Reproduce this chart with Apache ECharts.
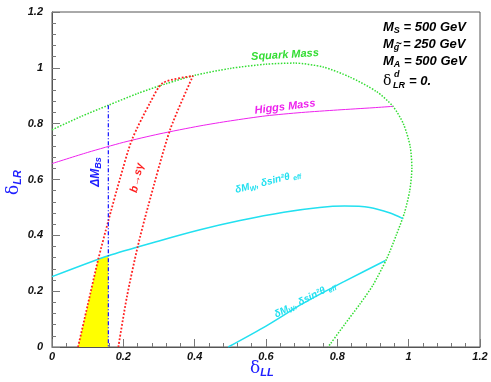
<!DOCTYPE html>
<html>
<head>
<meta charset="utf-8">
<script src="https://cdn.jsdelivr.net/npm/echarts@6/dist/echarts.min.js"></script>
<style>
  html, body {margin: 0; padding: 0; background: #fff;}
  #chart {width: 491px; height: 382px;}
</style>
</head>
<body>
<div id="chart"></div>
<script>
  // curves, [deltaLL, deltaLR]
  const squarkMass = [[0, 0.778], [0.08, 0.825], [0.158, 0.866], [0.24, 0.908], [0.322, 0.944], [0.4, 0.973],
    [0.5, 0.998], [0.6, 1.013], [0.68, 1.017], [0.76, 1.003], [0.835, 0.967], [0.91, 0.915], [0.956, 0.862],
    [0.985, 0.8], [1.004, 0.72], [1.009, 0.64], [1.003, 0.56], [0.988, 0.48], [0.965, 0.4], [0.938, 0.315],
    [0.9, 0.222], [0.864, 0.155], [0.82, 0.08], [0.774, 0]];
  const higgsMass = [[0, 0.657], [0.1, 0.697], [0.2, 0.733], [0.3, 0.763], [0.415, 0.792], [0.5, 0.81],
    [0.6, 0.828], [0.7, 0.84], [0.8, 0.849], [0.9, 0.857], [0.956, 0.862]];
  const ewUpper = [[0, 0.252], [0.158, 0.327], [0.3, 0.38], [0.415, 0.42], [0.527, 0.453], [0.65, 0.483],
    [0.75, 0.5], [0.82, 0.505], [0.891, 0.5], [0.948, 0.48], [0.984, 0.46]];
  const ewLower = [[0.494, 0], [0.6, 0.075], [0.704, 0.156], [0.82, 0.235], [0.935, 0.31]];
  const bsgamma = [[0.073, 0], [0.1, 0.15], [0.13, 0.316], [0.158, 0.452], [0.19, 0.6], [0.224, 0.742],
    [0.275, 0.875], [0.311, 0.946], [0.395, 0.971], [0.331, 0.778], [0.269, 0.502], [0.24, 0.358],
    [0.21, 0.18], [0.186, 0]];
  const deltaMBs = [[0.158, 0.866], [0.158, 0]];
  const allowed = [[0.073, 0], [0.1, 0.15], [0.13, 0.316], [0.158, 0.327], [0.158, 0]];

  const xTicks = {min: 0, max: 1.2, step: 0.2};
  const yTicks = {min: 0, max: 1.2, step: 0.2};

  const font = '"Liberation Sans", Arial, sans-serif';
  const green = '#33dd33', magenta = '#ee22ee', cyan = '#22e0f0', red = '#ff2020', blue = '#2020ff';

  function axis(t) {
    return {
      type: 'value', min: t.min, max: t.max, interval: t.step,
      axisLine: {lineStyle: {color: '#555', width: 1}},
      axisTick: {inside: true, length: 8, lineStyle: {color: '#777'}},
      minorTick: {show: true, splitNumber: 5, length: 4, lineStyle: {color: '#777'}},
      splitLine: {show: false},
      axisLabel: {color: '#111', fontFamily: font, fontWeight: 'bold', fontStyle: 'italic', fontSize: 11}
    };
  }

  const xAxis = axis(xTicks);
  xAxis.axisLabel.margin = 4;
  const yAxis = axis(yTicks);
  yAxis.axisLabel.margin = 9;

  function curve(data, color, type, width) {
    return {
      type: 'line', data: data, showSymbol: false, smooth: 0.25, silent: true,
      lineStyle: {color: color, type: type, width: width}
    };
  }

  function label(text, x, y, rot, color, size, rich) {
    return {
      type: 'text', x: x, y: y, rotation: rot, z: 10,
      style: {
        text: text, fill: color, align: 'center', verticalAlign: 'middle',
        font: 'italic bold ' + size + 'px ' + font, rich: rich || {}
      }
    };
  }

  const sub = (color, size) => ({fill: color, font: 'italic bold ' + size + 'px ' + font, verticalAlign: 'bottom', padding: [6, 0, 0, 0]});

  function legendLine(text, top) {
    return {
      type: 'text', left: 383, top: top, z: 10,
      style: {text: text, fill: '#000', font: 'italic bold 13px ' + font, rich: {s: sub('#000', 9)}}
    };
  }

  const chart = echarts.init(document.getElementById('chart'));
  chart.setOption({
    animation: false,
    grid: {left: 52, right: 11, top: 12, bottom: 35, show: true, borderColor: '#555', borderWidth: 1},
    xAxis: xAxis,
    yAxis: yAxis,
    series: [
      {
        type: 'line', data: allowed, showSymbol: false, silent: true,
        lineStyle: {width: 0}, areaStyle: {color: '#ffff00', opacity: 1}
      },
      curve(squarkMass, green, 'dotted', 1.5),
      curve(higgsMass, magenta, 'solid', 1),
      curve(ewUpper, cyan, 'solid', 1.5),
      curve(ewLower, cyan, 'solid', 1.5),
      curve(bsgamma, red, 'dotted', 1.8),
      {
        type: 'line', data: deltaMBs, showSymbol: false, silent: true,
        lineStyle: {color: blue, type: [4, 2, 1, 2], width: 1.3}
      }
    ],
    graphic: [
      label('Squark Mass', 285, 55, 0.06, green, 11),
      label('Higgs Mass', 285, 107, 0.12, magenta, 11),
      label('ΔM{s|Bs}', 96, 172, Math.PI / 2, blue, 12, {s: sub(blue, 9)}),
      label('b→sγ', 137, 178, 1.35, red, 11),
      label('δM{s|W}, δsin²θ {s|eff}', 268, 182, 0.25, cyan, 10, {s: sub(cyan, 7)}),
      label('δM{s|W}, δsin²θ {s|eff}', 305, 300, 0.47, cyan, 10, {s: sub(cyan, 7)}),
      legendLine('M{s|S} = 500 GeV', 21),
      legendLine('M{s|g} = 250 GeV', 38),
      {
        type: 'text', left: 396, top: 39, z: 10,
        style: {text: '~', fill: '#000', font: 'bold 10px ' + font}
      },
      legendLine('M{s|A} = 500 GeV', 55),
      {
        type: 'text', left: 383, top: 74, z: 10,
        style: {text: 'δ', fill: '#000', font: '14px "DejaVu Serif", serif'}
      },
      {
        type: 'text', left: 394, top: 70, z: 10,
        style: {text: 'd', fill: '#000', font: 'italic bold 9px ' + font}
      },
      {
        type: 'text', left: 393, top: 81, z: 10,
        style: {text: 'LR', fill: '#000', font: 'italic bold 9px ' + font}
      },
      {
        type: 'text', left: 409, top: 75, z: 10,
        style: {text: '= 0.', fill: '#000', font: 'italic bold 13px ' + font}
      },
      {
        type: 'text', left: 250, top: 360, z: 10,
        style: {
          text: 'δ{s|LL}', fill: blue, font: '17px "DejaVu Serif", serif',
          rich: {s: {fill: blue, font: 'italic bold 11px ' + font, padding: [8, 0, 0, 0]}}
        }
      },
      {
        type: 'text', x: 4, y: 195, rotation: Math.PI / 2, z: 10,
        style: {
          text: 'δ{s|LR}', fill: blue, font: '17px "DejaVu Serif", serif',
          rich: {s: {fill: blue, font: 'italic bold 11px ' + font, padding: [8, 0, 0, 0]}}
        }
      }
    ]
  });
</script>
</body>
</html>
